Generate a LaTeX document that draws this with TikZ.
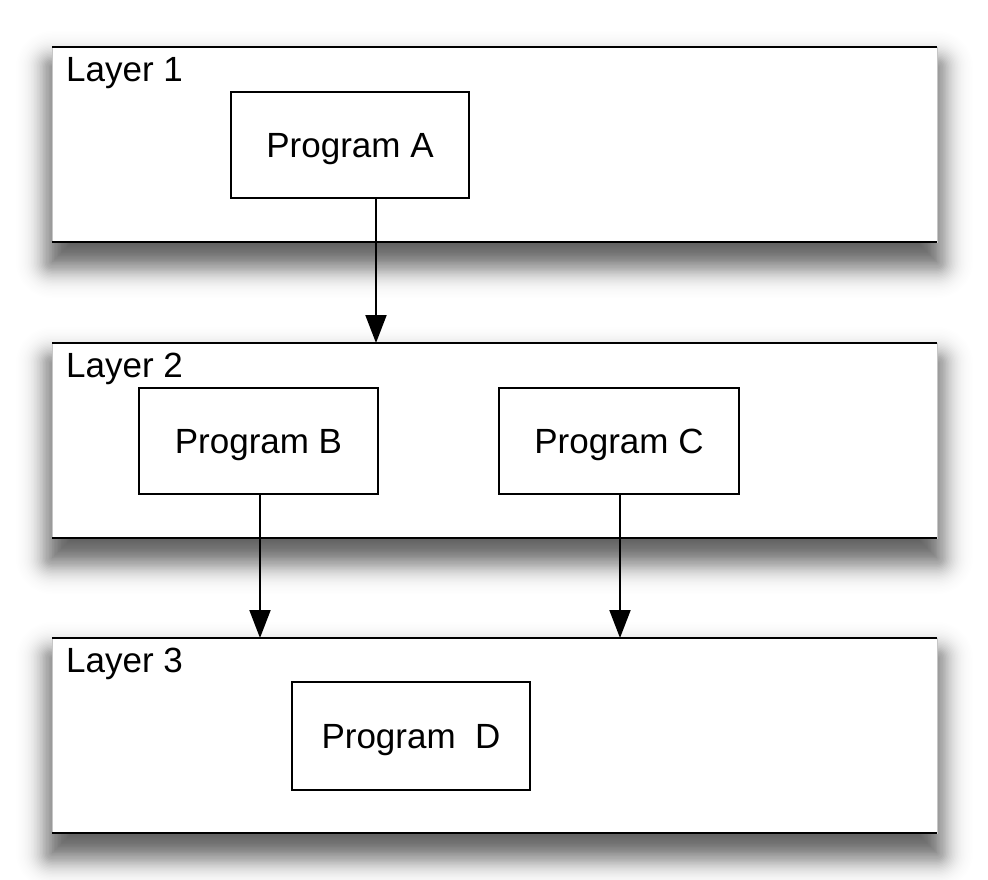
\documentclass[tikz,border=0pt]{standalone}
\usepackage{fontspec}
\setmainfont{Liberation Sans}
\usetikzlibrary{arrows.meta,calc}
\begin{document}
\begin{tikzpicture}[x=1pt,y=-1pt,
  layerband/.style={rectangle, anchor=north west, inner sep=0pt, outer sep=0pt,
    minimum width=885pt, minimum height=195pt, fill=white, draw=gray!45, line width=0.6pt},
  edgeline/.style={line width=2.2pt, black},
  prog/.style={rectangle, draw=black, line width=2pt, fill=white, minimum width=238pt,
    minimum height=106pt, inner sep=0pt, text depth=0pt, font=\fontsize{35}{40}\selectfont},
  lbl/.style={anchor=base west, inner sep=0pt, font=\fontsize{35}{40}\selectfont},
  arr/.style={line width=2pt, -{Triangle[length=28pt,width=21pt]}}]
\useasboundingbox (0,0) rectangle (988,880);
\fill[white] (0,0) rectangle (988,880);
% soft (gaussian-like) shadows below the layer bands
\foreach \t in {47,343,638}{
  \foreach \d in {-45,-43.5,...,45}{
    \pgfmathsetmacro{\rr}{max(\d,0.01)}
    \pgfmathsetmacro{\aa}{0.0367*exp(-(\d*\d)/450)}
    \fill[black, fill opacity=\aa, rounded corners=\rr pt]
      (52-\d, \t+20-\d) rectangle (937+\d, \t+195+20+\d);
  }
}
% layers
\node[layerband] (L1) at (52,47) {};
\node[layerband] (L2) at (52,343) {};
\node[layerband] (L3) at (52,638) {};
\foreach \L in {L1,L2,L3}{
  \draw[edgeline] (\L.north west) -- (\L.north east);
  \draw[edgeline] (\L.south west) -- (\L.south east);
}
\node[lbl] (t1) at (66,82) {Layer 1};
\node[lbl] (t2) at (66,377) {Layer 2};
\node[lbl] (t3) at (66,672) {Layer 3};
% programs
\node[prog] (A) at (350,145) {Program A};
\node[prog, minimum width=239pt] (B) at (258.5,441) {Program B};
\node[prog, minimum width=240pt] (C) at (619,441) {Program C};
\node[prog, minimum height=108pt] (D) at (411,736) {Program\ \ D};
% arrows
\coordinate (xa) at (376,0);
\coordinate (xb) at (260,0);
\coordinate (xc) at (620,0);
\draw[arr] (A.south -| xa) -- (L2.north -| xa);
\draw[arr] (B.south -| xb) -- (L3.north -| xb);
\draw[arr] (C.south -| xc) -- (L3.north -| xc);
\end{tikzpicture}
\end{document}
